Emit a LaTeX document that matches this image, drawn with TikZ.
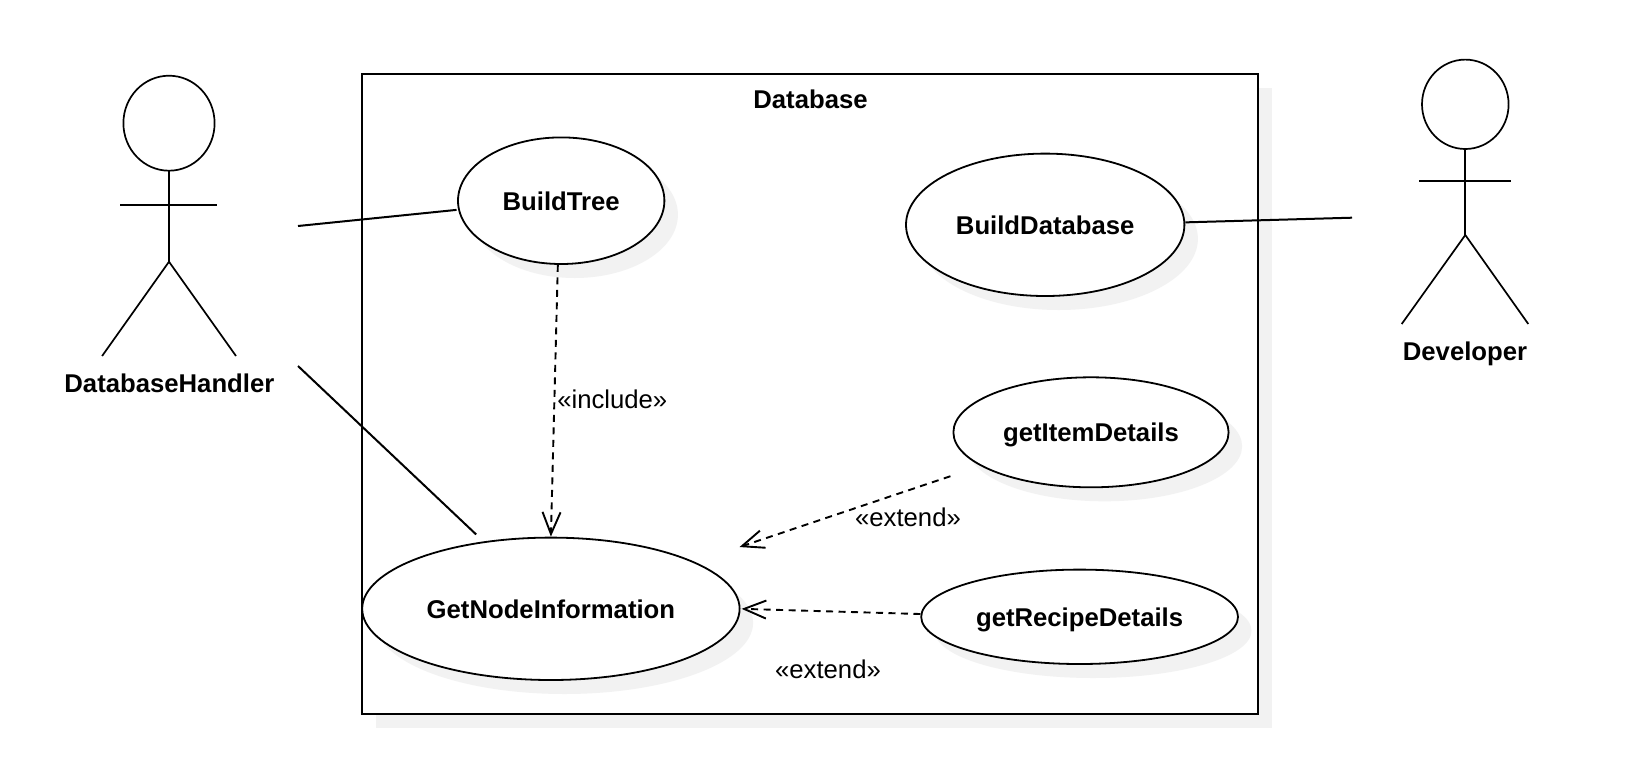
\documentclass[tikz,border=0pt]{standalone}
\usepackage{fontspec}
\setmainfont{Liberation Sans}
\usetikzlibrary{arrows.meta,shapes.geometric,shadows}
\definecolor{shadowgray}{HTML}{F2F2F2}
\tikzset{
  softshadow/.style={drop shadow={shadow xshift=13.5pt,shadow yshift=-14pt,fill=shadowgray,opacity=1}},
  usecase/.style={ellipse,draw,fill=white,line width=1.8pt,inner sep=0pt,outer sep=1pt,softshadow,text height=19pt,text depth=0pt,font=\fontsize{25.7}{30}\selectfont\bfseries},
  head/.style={ellipse,draw,line width=1.7pt,inner sep=0pt,outer sep=0pt},
  limb/.style={line width=1.7pt},
  assoc/.style={line width=2pt},
  dep/.style={line width=1.9pt,dash pattern=on 7pt off 5.5pt,->},
  caption/.style={font=\fontsize{25.7}{30}\selectfont\bfseries},
  stereo/.style={font=\fontsize{25.7}{30}\selectfont},
  >={Straight Barb[length=22pt,width=18pt]}
}
\begin{document}
\begin{tikzpicture}[x=1pt,y=-1pt]
  \useasboundingbox (0,0) rectangle (1634,756);

  % system boundary
  \node[draw,fill=white,line width=2.2pt,inner sep=0pt,softshadow,minimum width=896pt,minimum height=640pt] (system) at (810.3,393.9) {};
  \node[caption] (systemname) at (810.5,99) {Database};

  % use cases
  \node[usecase,minimum width=206.4pt,minimum height=126.6pt] (BuildTree) at (561.2,200.7) {BuildTree};
  \node[usecase,minimum width=278.4pt,minimum height=142.4pt] (BuildDatabase) at (1045.2,224.8) {BuildDatabase};
  \node[usecase,minimum width=275.2pt,minimum height=110pt] (getItemDetails) at (1091,432.3) {getItemDetails};
  \node[usecase,minimum width=316.8pt,minimum height=94.4pt] (getRecipeDetails) at (1079.6,616.8) {getRecipeDetails};
  \node[usecase,minimum width=377.4pt,minimum height=142.4pt] (GetNodeInformation) at (550.9,608.8) {GetNodeInformation};

  % left actor
  \node[head,minimum width=91.2pt,minimum height=95pt] (handlerhead) at (169,123.2) {};
  \coordinate (handlerhip) at (169,261.7);
  \draw[limb] (handlerhead.south) -- (handlerhip);
  \draw[limb] (120.4,204.7) -- (217.3,204.7);
  \draw[limb] (102.1,356) -- (handlerhip) -- (236,356);
  \node[caption] (handlername) at (169.4,383.5) {DatabaseHandler};

  % right actor
  \node[head,minimum width=86.6pt,minimum height=89.4pt] (devhead) at (1465.3,104.3) {};
  \coordinate (devhip) at (1465.3,235);
  \draw[limb] (devhead.south) -- (devhip);
  \draw[limb] (1419.4,181) -- (1510.6,181);
  \draw[limb] (1401.7,324) -- (devhip) -- (1528.3,324);
  \node[caption] (devname) at (1465,354) {Developer};

  % free ends next to the actors
  \coordinate (handlerup) at (298,226);
  \coordinate (handlerdown) at (298,366);
  \coordinate (devside) at (1352,217.7);

  % associations
  \draw[assoc,shorten >=1.5pt] (handlerup) -- (BuildTree.185.6);
  \draw[assoc,shorten >=10pt] (handlerdown) -- (GetNodeInformation.135.8);
  \draw[assoc] (BuildDatabase.1.1) -- (devside);

  % dependencies
  \draw[dep] (BuildTree.267.2) -- (GetNodeInformation.90);
  \draw[dep,shorten <=31.7pt,shorten >=46.8pt] (getItemDetails.197.4) -- (GetNodeInformation.18.2);
  \draw[dep,shorten >=1pt] (getRecipeDetails.179.4) -- (GetNodeInformation.0);

  \node[stereo] (includelabel) at (612.3,399) {«include»};
  \node[stereo] (extendupper) at (908,517.3) {«extend»};
  \node[stereo] (extendlower) at (828,669.7) {«extend»};
\end{tikzpicture}
\end{document}
